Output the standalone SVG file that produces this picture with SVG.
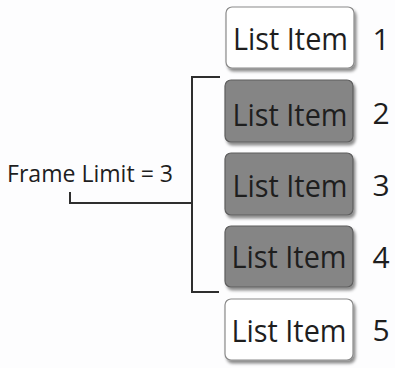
<svg xmlns="http://www.w3.org/2000/svg" width="395" height="368" viewBox="0 0 395 368">
<style>
.box{stroke-width:1.2}
.w{fill:#ffffff;stroke:#8a8a8a}
.g{fill:#858585;stroke:#5e5e5e}
.t{font-family:"Open Sans","Liberation Sans",sans-serif;font-size:31px;fill:#1e1e1e;text-anchor:middle}
.n{font-family:"Open Sans","Liberation Sans",sans-serif;font-size:30px;fill:#1e1e1e;text-anchor:middle}
.lbl{font-family:"Open Sans","Liberation Sans",sans-serif;font-size:23px;fill:#1e1e1e}
.ln{fill:none;stroke:#2e2e2e;stroke-width:2}
</style>
<defs>
<filter id="sh" x="-10%" y="-10%" width="125%" height="135%">
<feDropShadow dx="2" dy="3" stdDeviation="1.8" flood-color="#000" flood-opacity="0.45"/>
</filter>
</defs>
<rect width="395" height="368" fill="#fdfdfe"/>
<g id="connectors">
<path class="ln" d="M220,77 H192 V292 H219"/>
<path class="ln" d="M70,192 V203 H192"/>
</g>
<g id="label">
<text class="lbl" x="7" y="182" textLength="166" lengthAdjust="spacingAndGlyphs">Frame Limit = 3</text>
</g>
<g id="item1">
<rect class="box w" x="226" y="7" width="128" height="61" rx="6" filter="url(#sh)"/>
<text class="t" x="290.5" y="50" textLength="115" lengthAdjust="spacingAndGlyphs">List Item</text>
<text class="n" x="381" y="50">1</text>
</g>
<g id="item2">
<rect class="box g" x="225" y="80" width="128" height="62" rx="6" filter="url(#sh)"/>
<text class="t" x="290" y="126" textLength="115" lengthAdjust="spacingAndGlyphs">List Item</text>
<text class="n" x="381" y="124">2</text>
</g>
<g id="item3">
<rect class="box g" x="225" y="153" width="128" height="62" rx="6" filter="url(#sh)"/>
<text class="t" x="290" y="197" textLength="115" lengthAdjust="spacingAndGlyphs">List Item</text>
<text class="n" x="381" y="196">3</text>
</g>
<g id="item4">
<rect class="box g" x="225" y="226" width="128" height="61" rx="6" filter="url(#sh)"/>
<text class="t" x="289" y="268" textLength="115" lengthAdjust="spacingAndGlyphs">List Item</text>
<text class="n" x="381" y="268">4</text>
</g>
<g id="item5">
<rect class="box w" x="225" y="299" width="128" height="61" rx="6" filter="url(#sh)"/>
<text class="t" x="289" y="342" textLength="115" lengthAdjust="spacingAndGlyphs">List Item</text>
<text class="n" x="381" y="341">5</text>
</g>
</svg>
